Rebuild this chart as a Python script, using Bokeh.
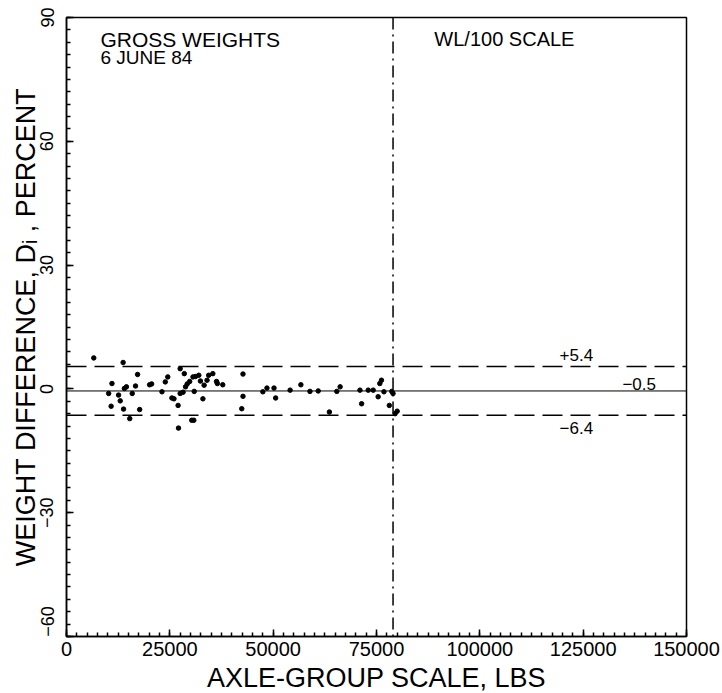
from bokeh.plotting import figure
from bokeh.models import Span, Label, FixedTicker, NumeralTickFormatter
from bokeh.embed import file_html
from bokeh.resources import INLINE

# ---- data ----
x_ticks = [0, 25000, 50000, 75000, 100000, 125000, 150000]
y_ticks = [-60, -30, 0, 30, 60, 90]
x_minor = list(range(0, 150001, 2500))
y_minor = list(range(-60, 91, 3))

scale_lbs = [6600, 13700, 17200, 11000, 10200, 10800, 12600, 13000, 14000, 14500,
             15900, 16700, 13800, 15300, 17700, 20100, 20600, 23100, 23900, 24500,
             25500, 26000, 27000, 27100, 27500, 28500, 27500, 28200, 28800, 29200,
             29800, 30300, 30800, 30600, 31200, 32000, 30900, 32400, 33000, 33300,
             34000, 34400, 35400, 36500, 37800, 36300,
             42700, 42700, 42400, 47500, 48500, 50200, 50600, 54100, 56700, 58900,
             60900, 63600, 65400, 66200, 71000, 71400, 73000, 74200, 75400, 75800,
             76200, 76800, 78100, 78700, 79000, 79500, 80000]
diff_pct = [7.5, 6.4, 3.5, 1.3, -1.1, -4.2, -1.5, -2.9, 0.1, 0.5,
            -1.1, 0.7, -4.9, -7.2, -5.0, 1.0, 1.2, -0.7, 1.7, 2.9,
            -2.2, -2.4, -4.0, -9.5, 4.9, 3.7, -1.1, -0.8, 0.5, 1.2,
            1.8, -7.6, -7.6, 2.9, 3.0, 3.3, -0.6, 1.9, -2.4, 0.9,
            2.1, 3.3, 3.7, 1.3, 1.0, 1.8,
            3.6, -1.8, -4.8, -0.7, 0.2, 0.2, -2.2, -0.3, 1.0, -0.6,
            -0.5, -5.6, -0.6, 0.5, -0.3, -3.6, -0.3, -0.3, -1.9, 1.3,
            2.1, -0.7, -4.0, -0.6, -1.1, -6.0, -5.4]

mean_diff = -0.5
upper_lim = 5.4
lower_lim = -6.4
wl_split = 79000

FONT = "Liberation Sans"

p = figure(frame_width=620, frame_height=619,
           x_range=(0, 150000), y_range=(-60, 90),
           output_backend="svg", toolbar_location=None,
           min_border_left=66, min_border_top=17, min_border_right=34,
           min_border_bottom=50)

p.background_fill_color = "white"
p.border_fill_color = "white"
p.outline_line_color = "black"
p.outline_line_width = 1.5
p.xgrid.visible = False
p.ygrid.visible = False

p.xaxis.ticker = FixedTicker(ticks=x_ticks, minor_ticks=x_minor)
p.yaxis.ticker = FixedTicker(ticks=y_ticks, minor_ticks=y_minor)
p.xaxis.formatter = NumeralTickFormatter(format="0")

for ax in (p.xaxis, p.yaxis):
    ax.axis_line_color = "black"
    ax.axis_line_width = 1.5
    ax.major_tick_in = 7
    ax.major_tick_out = 0
    ax.minor_tick_in = 4
    ax.minor_tick_out = 0
    ax.major_tick_line_color = "black"
    ax.minor_tick_line_color = "black"
    ax.major_tick_line_width = 1.5
    ax.minor_tick_line_width = 1.5
    ax.major_label_text_font = FONT
    ax.major_label_text_color = "black"
    ax.axis_label_text_font = FONT
    ax.axis_label_text_font_style = "normal"
    ax.axis_label_text_color = "black"

p.xaxis.major_label_text_font_size = "20px"
p.xaxis.major_label_standoff = 5
p.xaxis.axis_label = "AXLE-GROUP SCALE, LBS"
p.xaxis.axis_label_text_font_size = "27px"
p.xaxis.axis_label_standoff = 4

p.yaxis.major_label_text_font_size = "18px"
p.yaxis.major_label_orientation = "vertical"
p.yaxis.major_label_standoff = 9
# lowest label padded with figure spaces so its digits sit above the x-axis "0"
p.yaxis.major_label_overrides = {y_ticks[0]: "\u2007\u2007\u2007\u221260"}
p.yaxis.axis_label = "WEIGHT DIFFERENCE, D\u1d62 , PERCENT"
p.yaxis.axis_label_text_font_size = "27px"
p.yaxis.axis_label_standoff = -6

# reference lines
p.add_layout(Span(location=upper_lim, dimension="width", line_color="black",
                  line_width=1.5, line_dash="20 8"))
p.add_layout(Span(location=lower_lim, dimension="width", line_color="black",
                  line_width=1.5, line_dash="20 8"))
p.add_layout(Span(location=mean_diff, dimension="width", line_color="black",
                  line_width=1))
p.add_layout(Span(location=wl_split, dimension="height", line_color="black",
                  line_width=1.5, line_dash="12 5 2 5"))

# data points
p.scatter(scale_lbs, diff_pct, size=4.5, marker="circle",
          fill_color="black", line_color="black")

# annotations
p.add_layout(Label(x=8200, y=87.4, text="GROSS WEIGHTS", text_font=FONT,
                   text_font_size="21px", text_baseline="top", text_color="black"))
p.add_layout(Label(x=8200, y=82.9, text="6 JUNE 84", text_font=FONT,
                   text_font_size="19px", text_baseline="top", text_color="black"))
p.add_layout(Label(x=89000, y=87.4, text="WL/100 SCALE", text_font=FONT,
                   text_font_size="20px", text_baseline="top", text_color="black"))
p.add_layout(Label(x=119300, y=upper_lim + 1.3, text="+5.4", text_font=FONT,
                   text_font_size="17px", text_baseline="bottom", text_color="black"))
p.add_layout(Label(x=134500, y=mean_diff + 0.2, text="\u22120.5", text_font=FONT,
                   text_font_size="17px", text_baseline="bottom", text_color="black"))
p.add_layout(Label(x=119300, y=lower_lim - 1.5, text="\u22126.4", text_font=FONT,
                   text_font_size="17px", text_baseline="top", text_color="black"))

open("out.html", "w").write(file_html(p, INLINE))
